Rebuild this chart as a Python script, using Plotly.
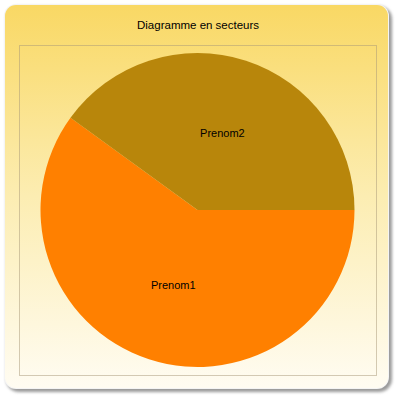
import base64
import plotly.graph_objects as go

# Data
labels = ["Prenom1", "Prenom2"]
values = [60, 40]
colors = ["#FF8000", "#B8860B"]
title_text = "Diagramme en secteurs"

W, H = 400, 400

svg = f'''<svg xmlns="http://www.w3.org/2000/svg" width="{W}" height="{H}" viewBox="0 0 {W} {H}">
<defs>
<linearGradient id="g" x1="0" y1="0" x2="0" y2="1">
<stop offset="0" stop-color="#F9D864"/>
<stop offset="0.5" stop-color="#FCEDB2"/>
<stop offset="1" stop-color="#FFFCF2"/>
</linearGradient>
<filter id="s" x="-10%" y="-10%" width="120%" height="120%">
<feGaussianBlur stdDeviation="1.6"/>
</filter>
</defs>
<rect x="0" y="0" width="{W}" height="{H}" fill="#FFFFFF"/>
<rect x="6" y="6" width="386" height="386" rx="13" ry="13" fill="#9A9A9A" filter="url(#s)"/>
<rect x="4" y="4" width="385" height="385" rx="12" ry="12" fill="#F4F4F4"/>
<rect x="5" y="5" width="383" height="383" rx="11" ry="11" fill="url(#g)"/>
<rect x="19.5" y="45.5" width="357" height="330" fill="none" stroke="#A89878" stroke-opacity="0.5" stroke-width="1"/>
</svg>'''
src = "data:image/svg+xml;base64," + base64.b64encode(svg.encode()).decode()

fig = go.Figure()
fig.add_trace(go.Pie(
    labels=labels,
    values=values,
    marker=dict(colors=colors, line=dict(width=0)),
    sort=False,
    direction="clockwise",
    rotation=90,
    textinfo="label",
    textposition="inside",
    insidetextorientation="horizontal",
    textfont=dict(family="Liberation Sans, Arial, sans-serif", size=11, color="#000000"),
    hoverinfo="label+value",
    showlegend=False,
    domain=dict(x=[(197.5 - 157) / W, (197.5 + 157) / W], y=[(190 - 157) / H, (190 + 157) / H]),
))

fig.update_layout(
    width=W, height=H,
    margin=dict(l=0, r=0, t=0, b=0),
    paper_bgcolor="#FFFFFF",
    plot_bgcolor="rgba(0,0,0,0)",
    showlegend=False,
    images=[dict(source=src, xref="paper", yref="paper", x=0, y=1, sizex=1, sizey=1,
                 xanchor="left", yanchor="top", sizing="stretch", layer="below")],
    annotations=[dict(text=title_text, xref="paper", yref="paper", x=198 / W, y=1 - 25 / H,
                      xanchor="center", yanchor="middle", showarrow=False,
                      font=dict(family="Liberation Sans, Arial, sans-serif", size=11.5, color="#000000"))],
)

fig.write_html("out.html")
